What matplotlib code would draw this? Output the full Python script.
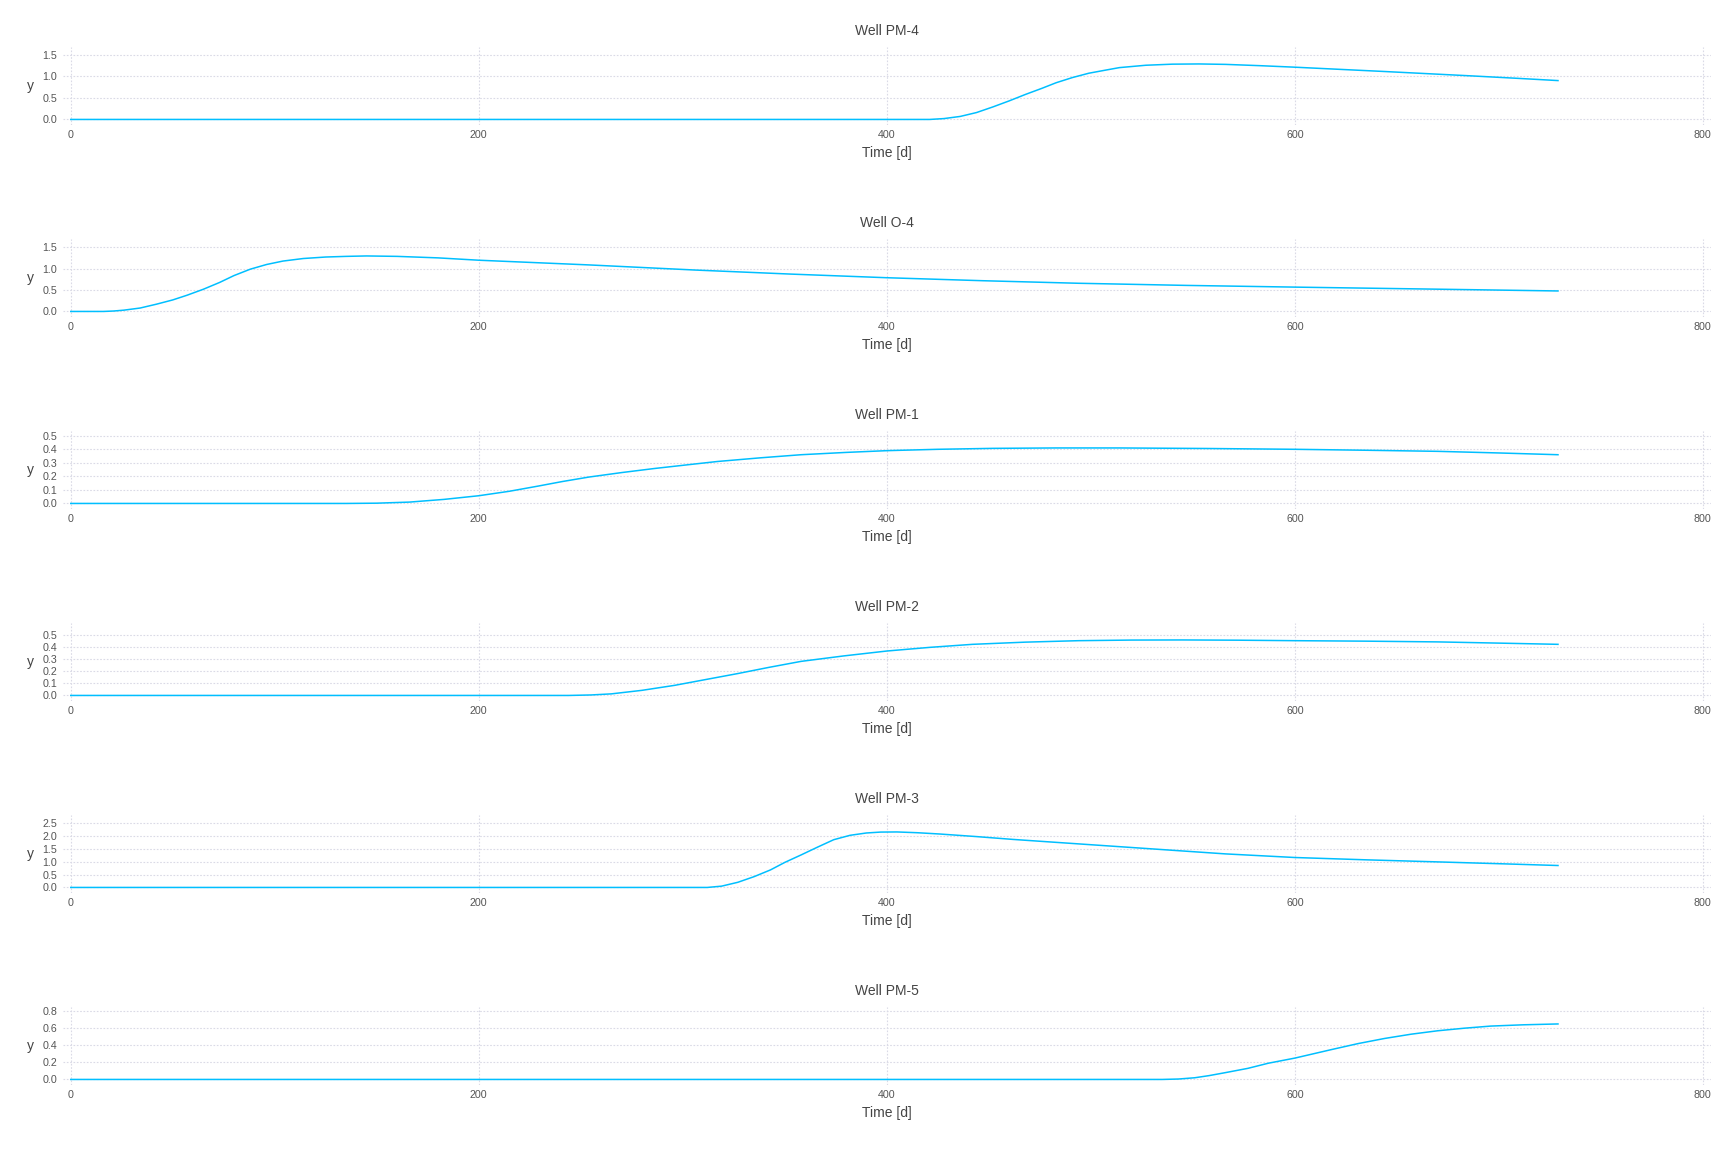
import numpy as np
import matplotlib.pyplot as plt
from matplotlib.ticker import MultipleLocator

plt.rcParams['font.family'] = ['Liberation Sans', 'DejaVu Sans']

# -------------- data --------------
wells = ["Well PM-4", "Well O-4", "Well PM-1", "Well PM-2", "Well PM-3", "Well PM-5"]

t_pm4 = [0, 200, 400, 421, 428, 436, 444, 452, 460, 468, 476, 483, 491, 499, 507, 514,
         527, 540, 553, 566, 583, 600, 622, 644, 665, 686, 708, 729]
y_pm4 = [0, 0, 0, 0, 0.02, 0.07, 0.16, 0.29, 0.43, 0.58, 0.72, 0.85, 0.97, 1.07, 1.14, 1.20,
         1.255, 1.28, 1.285, 1.275, 1.245, 1.21, 1.16, 1.11, 1.06, 1.01, 0.955, 0.90]

t_o4 = [0, 16, 21, 26, 34, 42, 50, 57, 65, 73, 80, 88, 96, 104, 114, 125, 135, 145,
        160, 180, 200, 227, 254, 280, 306, 353, 400, 447, 494, 547, 600, 665, 729]
y_o4 = [0, 0, 0.01, 0.03, 0.08, 0.17, 0.27, 0.38, 0.52, 0.68, 0.84, 0.99, 1.10, 1.18, 1.24, 1.275, 1.29, 1.30,
        1.29, 1.255, 1.20, 1.145, 1.09, 1.03, 0.97, 0.875, 0.79, 0.72, 0.66, 0.61, 0.57, 0.525, 0.48]

t_pm1 = [0, 135, 150, 166, 183, 200, 215, 229, 241, 254, 270, 286, 302, 317, 338, 358,
         380, 400, 425, 452, 483, 514, 557, 600, 635, 670, 700, 729]
y_pm1 = [0, 0, 0.002, 0.01, 0.03, 0.057, 0.09, 0.128, 0.162, 0.195, 0.228, 0.258, 0.285, 0.31, 0.337, 0.36,
         0.377, 0.39, 0.40, 0.407, 0.41, 0.41, 0.406, 0.40, 0.393, 0.385, 0.373, 0.36]

t_pm2 = [0, 244, 255, 265, 280, 296, 311, 327, 342, 358, 379, 400, 421, 442, 468, 494,
         520, 545, 572, 600, 635, 670, 700, 729]
y_pm2 = [0, 0, 0.004, 0.013, 0.042, 0.083, 0.13, 0.18, 0.23, 0.28, 0.325, 0.365, 0.395, 0.42, 0.438, 0.45,
         0.455, 0.456, 0.454, 0.45, 0.446, 0.44, 0.43, 0.42]

t_pm3 = [0, 312, 319, 327, 335, 343, 350, 358, 366, 374, 382, 390, 397, 405, 415, 426,
         444, 462, 488, 514, 540, 566, 583, 600, 635, 670, 700, 729]
y_pm3 = [0, 0, 0.05, 0.20, 0.42, 0.68, 0.97, 1.26, 1.56, 1.85, 2.02, 2.11, 2.145, 2.15, 2.12, 2.07,
         1.97, 1.86, 1.72, 1.58, 1.44, 1.30, 1.23, 1.16, 1.07, 0.99, 0.92, 0.85]

t_pm5 = [0, 400, 535, 543, 551, 558, 566, 577, 587, 600, 609, 618, 631, 644, 657, 670,
         683, 696, 712, 729]
y_pm5 = [0, 0, 0, 0.005, 0.02, 0.045, 0.08, 0.13, 0.19, 0.25, 0.30, 0.35, 0.42, 0.48, 0.53, 0.57,
         0.60, 0.625, 0.64, 0.65]

times = [t_pm4, t_o4, t_pm1, t_pm2, t_pm3, t_pm5]
values = [y_pm4, y_o4, y_pm1, y_pm2, y_pm3, y_pm5]
ytick_steps = [0.5, 0.5, 0.1, 0.1, 0.5, 0.2]

# -------------- plot --------------
W, H = 1728, 1152
fig = plt.figure(figsize=(W / 100, H / 100), dpi=100)

LINE = '#00BFFF'
GRID = '#dadae6'
TXT = '#444444'

left, right = 63 / W, 1711 / W
for i, (name, t, y, step) in enumerate(zip(wells, times, values, ytick_steps)):
    top_px = 47.3 + 192 * i
    bot_px = 125 + 192 * i
    ax = fig.add_axes([left, 1 - bot_px / H, right - left, (bot_px - top_px) / H])
    ax.plot(t, y, color=LINE, linewidth=1.1, solid_joinstyle='round')

    ymax = max(y)
    ax.set_ylim(-0.1 * ymax, 1.3 * ymax)
    ax.set_xlim(-3.8, 804)
    ax.xaxis.set_major_locator(MultipleLocator(200))
    ax.yaxis.set_major_locator(MultipleLocator(step))
    ax.yaxis.set_major_formatter(plt.FuncFormatter(lambda v, p: f"{v:.1f}"))

    for s in ax.spines.values():
        s.set_visible(False)
    ax.tick_params(length=0, labelsize=7.7, labelcolor='#555555')
    ax.tick_params(axis='x', pad=3.7)
    ax.tick_params(axis='y', pad=4)
    ax.grid(True, color=GRID, linewidth=0.8, linestyle=(0, (1.5, 1.5)))
    ax.set_axisbelow(True)

    ax.set_title(name, fontsize=10, color=TXT, pad=8.5)
    ax.set_xlabel('Time [d]', fontsize=10, color=TXT, labelpad=4)
    ax.set_ylabel('y', fontsize=10, color=TXT, rotation=0, labelpad=9, va='center')

fig.savefig('out.png', dpi=100, facecolor='white')
